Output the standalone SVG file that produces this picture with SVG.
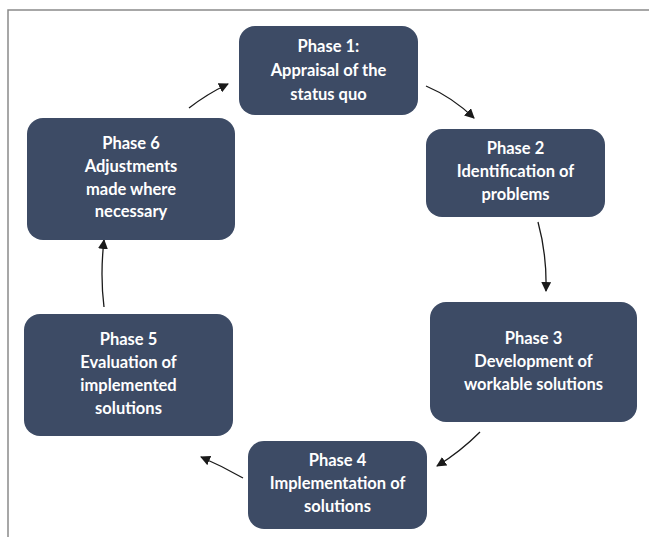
<svg xmlns="http://www.w3.org/2000/svg" width="649" height="537" viewBox="0 0 649 537">
<style>
.box{fill:#3d4b65}
.t{fill:#fff;font-family:Lato,"Open Sans","Liberation Sans",sans-serif;font-weight:bold;font-size:16.5px;text-anchor:middle}
.c{fill:none;stroke:#1a1a1a;stroke-width:1.3;marker-end:url(#ah)}
</style>
<defs>
<marker id="ah" viewBox="0 0 10 10" refX="9" refY="5" markerWidth="10" markerHeight="10" markerUnits="userSpaceOnUse" orient="auto">
<path d="M0,0 L10,5 L0,10 z" fill="#1a1a1a"/>
</marker>
</defs>
<rect width="649" height="537" fill="#fff"/>
<path d="M8,537 V10 H649" fill="none" stroke="#8a8a8a" stroke-width="1.5"/>
<g id="connectors">
<path class="c" d="M426,86 Q452,97 474,118"/>
<path class="c" d="M538,222 Q547,255 546,291"/>
<path class="c" d="M480,432 Q460,452 437,466"/>
<path class="c" d="M243,478 Q222,466 201,457"/>
<path class="c" d="M104,307 Q100,275 104,240"/>
<path class="c" d="M189,108 Q207,94 228,84"/>
</g>
<g id="phase1"><rect class="box" x="239" y="26" width="179" height="89" rx="16"/>
<text class="t" x="328.5" y="52">Phase 1:</text><text class="t" x="328.5" y="76">Appraisal of the</text><text class="t" x="328.5" y="100">status quo</text></g>
<g id="phase2"><rect class="box" x="426" y="129" width="179" height="88" rx="16"/>
<text class="t" x="515.5" y="154">Phase 2</text><text class="t" x="515.5" y="177">Identification of</text><text class="t" x="515.5" y="200">problems</text></g>
<g id="phase3"><rect class="box" x="430" y="302" width="207" height="120" rx="16"/>
<text class="t" x="533.5" y="344">Phase 3</text><text class="t" x="533.5" y="367">Development of</text><text class="t" x="533.5" y="390">workable solutions</text></g>
<g id="phase4"><rect class="box" x="248" y="441" width="179" height="88" rx="16"/>
<text class="t" x="337.5" y="466">Phase 4</text><text class="t" x="337.5" y="489">Implementation of</text><text class="t" x="337.5" y="512">solutions</text></g>
<g id="phase5"><rect class="box" x="24" y="314" width="209" height="122" rx="16"/>
<text class="t" x="128.5" y="345">Phase 5</text><text class="t" x="128.5" y="368">Evaluation of</text><text class="t" x="128.5" y="391">implemented</text><text class="t" x="128.5" y="414">solutions</text></g>
<g id="phase6"><rect class="box" x="27" y="118" width="208" height="122" rx="16"/>
<text class="t" x="131" y="149">Phase 6</text><text class="t" x="131" y="172">Adjustments</text><text class="t" x="131" y="195">made where</text><text class="t" x="131" y="217">necessary</text></g>
</svg>
